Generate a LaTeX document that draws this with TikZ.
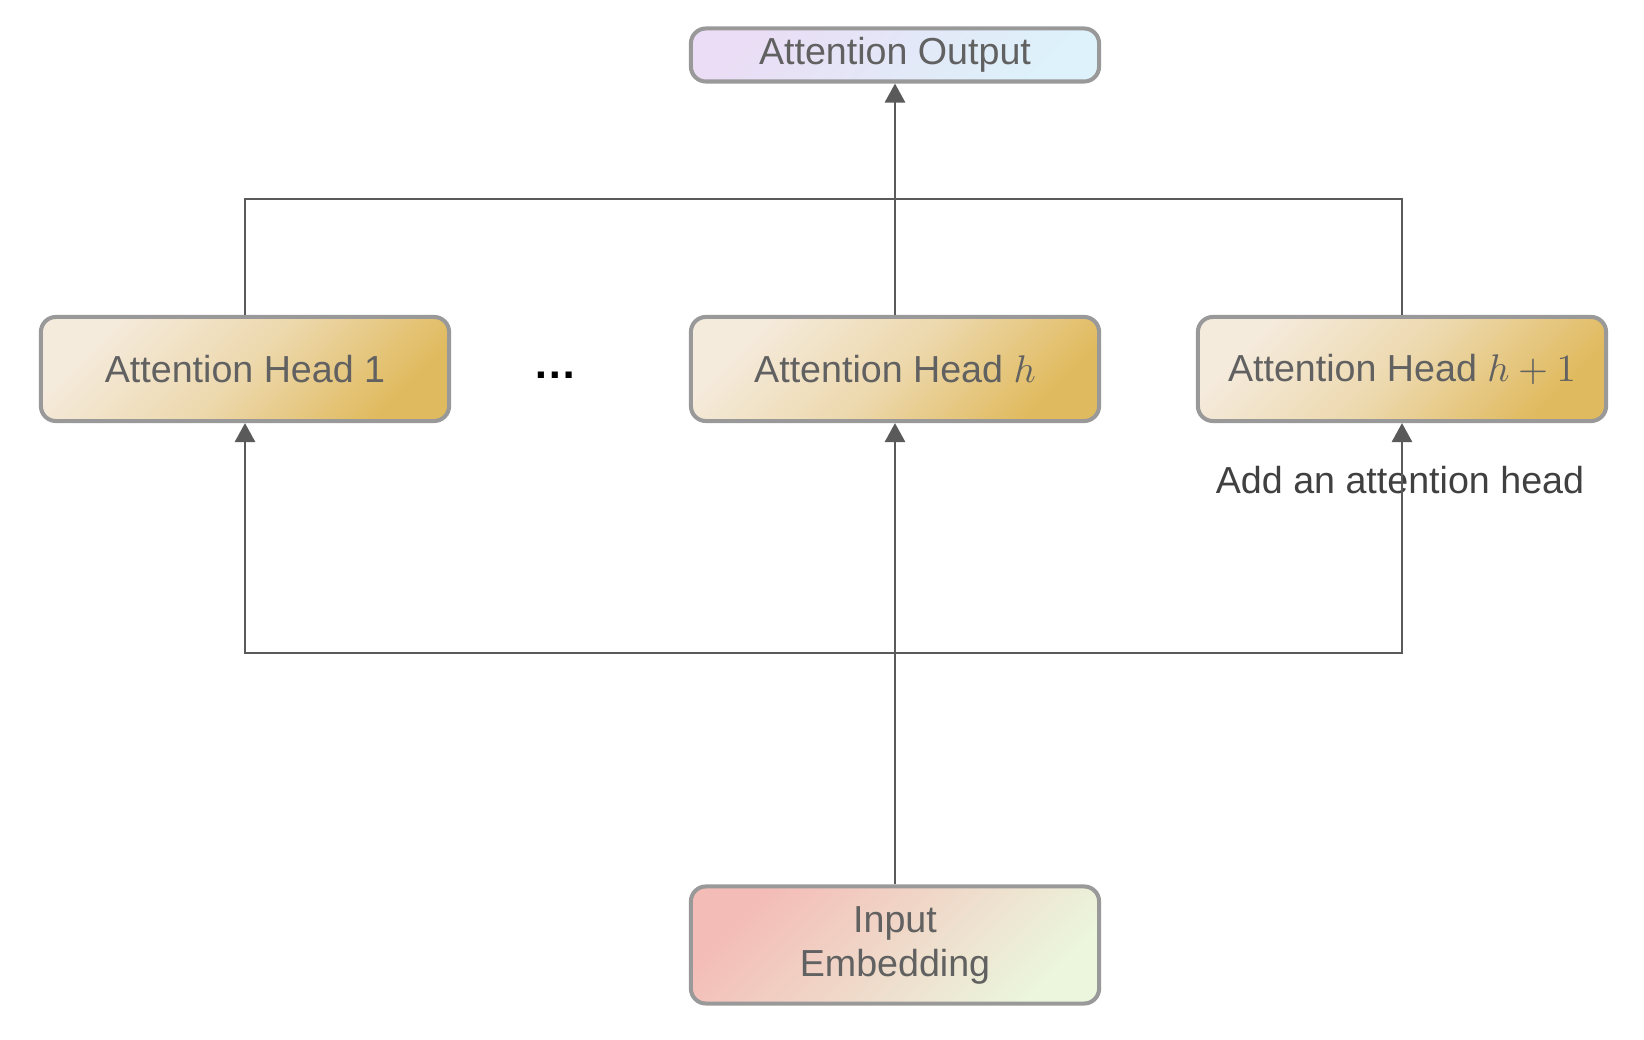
\documentclass[tikz,border=0pt]{standalone}
\usepackage{fontspec}
\setmainfont{Liberation Sans}
\usetikzlibrary{arrows.meta,positioning}

\definecolor{boxline}{HTML}{999999}
\definecolor{boxtext}{HTML}{616161}
\definecolor{wire}{HTML}{5A5A5A}
\definecolor{headlight}{HTML}{F5EBDD}
\definecolor{headdark}{HTML}{E0BA5E}
\definecolor{inlight}{HTML}{F4BCB7}
\definecolor{indark}{HTML}{EBF6DC}
\definecolor{outlight}{HTML}{EADDF5}
\definecolor{outdark}{HTML}{DDF2FA}

\begin{document}
\begin{tikzpicture}[x=0.01cm, y=-0.01cm, >={Triangle[length=0.19cm, width=0.2cm]}]
    \tikzstyle{box} = [draw=boxline, line width=1.15pt, rounded corners=0.15cm,
	minimum width=4.08cm, inner sep=0pt, text=boxtext, align=center,
	font=\fontsize{10.7}{12.5}\selectfont, shading angle=45]
    \tikzstyle{head} = [box, top color=headlight, bottom color=headdark,
	middle color=headlight!62!headdark, shading angle=45, minimum height=1.04cm]
    \tikzstyle{wires} = [draw=wire, line width=0.8pt]

	\useasboundingbox (0,0) rectangle (1644,1040);

	\begin{scope}
		\path
			node[box, top color=outlight, bottom color=outdark, shading angle=45,
				minimum height=0.53cm] (out) at (895,55) {Attention Output}
			node[head] (hh) at (895,369) {Attention Head $h$}
			node[head] (h1) at (245,369) {Attention Head 1}
			node[head] (hn) at (1402,369) {Attention Head $h+1$}
			node[text=black, inner sep=0pt, font=\fontsize{12.4}{13}\bfseries]
				(dots) at (555,375) {…}
			node[box, top color=inlight, bottom color=indark, shading angle=45,
				minimum height=1.17cm] (in) at (895,945) {Input\\Embedding}
			node[text=black!75, font=\fontsize{10.7}{13}\selectfont] (add)
				at (1400,480) {Add an attention head}
		;
		\coordinate (top) at (895,199);
		\coordinate (bot) at (895,653);

		% heads to output
		\draw[wires] (h1.north) |- (top);
		\draw[wires] (hn.north) |- (top);
		\draw[wires, ->] (hh.north) -- (out.south);

		% input to heads
		\draw[wires, ->] (in.north) -- (hh.south);
		\draw[wires, ->] (bot) -| (h1.south);
		\draw[wires, ->] (bot) -| (hn.south);
	\end{scope}
\end{tikzpicture}
\end{document}
